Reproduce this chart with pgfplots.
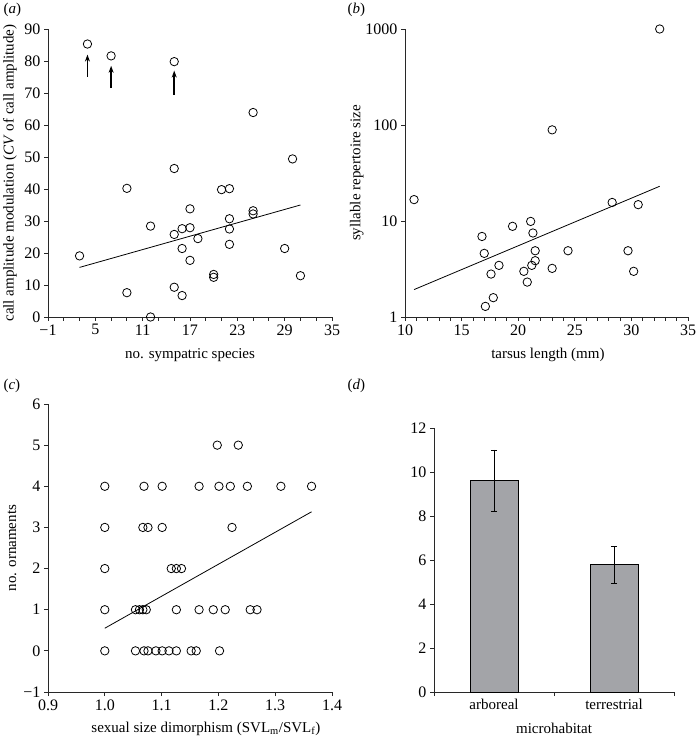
\documentclass[border=0pt]{standalone}
\usepackage{fontspec}
\setmainfont{Liberation Serif}
\usepackage{pgfplots}
\pgfplotsset{compat=1.18}
\usetikzlibrary{arrows.meta}
\definecolor{barfill}{RGB}{163,164,168}
\definecolor{axcol}{RGB}{40,40,40}
\begin{document}
\begin{tikzpicture}[font=\fontsize{15bp}{17bp}\selectfont]
\useasboundingbox (0bp,0bp) rectangle (696bp,741bp);
\pgfplotsset{
  every axis/.append style={
    scale only axis,
    anchor=south west,
    axis lines=left,
    axis line style={-, line width=0.8pt, axcol},
    tick align=outside,
    major tick length=4bp,
    minor tick length=4bp,
    every tick/.style={line width=0.8pt, axcol},
    font=\fontsize{15bp}{17bp}\selectfont,
    tick label style={font=\fontsize{16bp}{18bp}\selectfont},
    /pgf/number format/assume math mode=true,
    clip=false,
  },
  circ/.style={only marks, mark=o, mark size=4.2bp, mark options={line width=0.8pt}, black},
  regline/.style={no marks, line width=0.8pt, black},
}
% ---------------- (a)
\begin{axis}[at={(48bp,424bp)}, width=284bp, height=288bp,
  xmin=-1, xmax=35, ymin=0, ymax=90,
  xtick={-1,5,11,17,23,29,35}, xticklabels={−1,5,11,17,23,29,35},
  minor xtick={1,3,7,9,13,15,19,21,25,27,31,33},
  ytick={0,10,20,30,40,50,60,70,80,90},
  xlabel={no. sympatric species},
  ylabel={call amplitude modulation (\textit{CV} of call amplitude)},
  xlabel style={at={(axis description cs:0.5,-0.132)}, anchor=center},
  ylabel style={at={(axis description cs:-0.134,0.5)}, anchor=center},
]
\addplot[circ] coordinates {
(4,85.3) (7,81.6) (15,79.8) (25,63.9) (30,49.4) (15,46.4) (9,40.2) (21,39.8)
(22,40.1) (17,33.8) (25,33.2) (25,32.2) (22,30.7) (12,28.4) (16,27.6) (17,27.9)
(22,27.5) (15,25.8) (18,24.5) (16,21.4) (29,21.4) (22,22.7) (3,19.1) (17,17.7)
(20,13.3) (20,12.4) (31,12.9) (15,9.3) (9,7.6) (16,6.7) (12,0)
};
\addplot[regline] coordinates {(3,15.5) (31,35)};
\addplot[-{Stealth[length=7bp,width=5bp]}, line width=1.5pt, black] coordinates {(4,75) (4,82)};
\addplot[-{Stealth[length=7bp,width=5bp]}, line width=1.5pt, black] coordinates {(7,71.5) (7,78.5)};
\addplot[-{Stealth[length=7bp,width=5bp]}, line width=1.5pt, black] coordinates {(15,69.5) (15,77)};
\end{axis}
% ---------------- (b)
\begin{axis}[at={(405bp,424bp)}, width=283bp, height=288bp,
  ymode=log, xmin=10, xmax=35, ymin=1, ymax=1000,
  xtick={10,15,20,25,30,35}, minor x tick num=4,
  ytick={1,10,100,1000}, yticklabels={1,10,100,1000},
  minor y tick style={draw=none},
  xlabel={tarsus length (mm)},
  ylabel={syllable repertoire size},
  xlabel style={at={(axis description cs:0.505,-0.132)}, anchor=center},
  ylabel style={at={(axis description cs:-0.170,0.5)}, anchor=center},
]
\addplot[circ] coordinates {
(32.5,1000) (23.0,89) (10.8,16.7) (28.3,15.6) (30.6,14.8) (21.1,9.9) (19.5,8.8)
(21.3,7.5) (16.8,6.9) (21.5,4.9) (24.4,4.9) (29.7,4.9) (17.0,4.6) (21.5,3.86)
(18.3,3.45) (21.2,3.45) (23.0,3.21) (20.5,2.99) (30.2,2.99) (17.6,2.80)
(20.8,2.31) (17.8,1.59) (17.1,1.29)
};
\addplot[regline] coordinates {(10.8,1.93) (32.5,23.0)};
\end{axis}
% ---------------- (c)
\begin{axis}[at={(48bp,49bp)}, width=284bp, height=288bp,
  xmin=0.9, xmax=1.4, ymin=-1, ymax=6,
  xtick={0.9,1,1.1,1.2,1.3,1.4}, xticklabels={0.9,1.0,1.1,1.2,1.3,1.4},
  ytick={-1,0,1,2,3,4,5,6}, yticklabels={−1,0,1,2,3,4,5,6},
  xlabel={sexual size dimorphism (SVL\textsubscript{m}/SVL\textsubscript{f})},
  ylabel={no. ornaments},
  xlabel style={at={(axis description cs:0.556,-0.128)}, anchor=center},
  ylabel style={at={(axis description cs:-0.127,0.5)}, anchor=center},
]
\addplot[circ] coordinates {
(1.198,5) (1.235,5)
(1.0,4) (1.069,4) (1.101,4) (1.166,4) (1.201,4) (1.221,4) (1.251,4) (1.310,4) (1.364,4)
(1.0,3) (1.067,3) (1.076,3) (1.101,3) (1.224,3)
(1.0,2) (1.117,2) (1.126,2) (1.135,2)
(1.0,1) (1.054,1) (1.061,1) (1.067,1) (1.073,1) (1.126,1) (1.166,1) (1.191,1) (1.212,1) (1.256,1) (1.268,1)
(1.0,0) (1.054,0) (1.069,0) (1.076,0) (1.090,0) (1.101,0) (1.113,0) (1.126,0) (1.152,0) (1.161,0) (1.202,0)
};
\addplot[regline] coordinates {(1.0,0.55) (1.364,3.38)};
\end{axis}
% ---------------- (d)
\begin{axis}[at={(434bp,49bp)}, width=240bp, height=264bp,
  xmin=0, xmax=2, ymin=0, ymax=12,
  ytick={0,2,4,6,8,10,12},
  xtick={0.5,1.5}, xticklabels={arboreal,terrestrial},
  x tick label style={font=\fontsize{15bp}{17bp}\selectfont},
  major x tick style={draw=none},
  minor xtick={0,1,2},
  xlabel={microhabitat},
  xlabel style={at={(axis description cs:0.5,-0.136)}, anchor=center},
]
\addplot[ybar, bar width=0.4, fill=barfill, draw=black, line width=0.8pt,
  error bars/.cd, y dir=both, y explicit,
  error bar style={line width=0.8pt, black},
  error mark options={rotate=90, mark size=3bp, line width=0.8pt, black}]
  coordinates {(0.5,9.6) +- (0,1.4) (1.5,5.8) += (0,0.8) -= (0,0.85)};
\end{axis}
% panel labels
\node[anchor=west] at (0bp,731bp) {(\textit{a})};
\node[anchor=west] at (344bp,731bp) {(\textit{b})};
\node[anchor=west] at (0bp,355bp) {(\textit{c})};
\node[anchor=west] at (344bp,355bp) {(\textit{d})};
\end{tikzpicture}
\end{document}
